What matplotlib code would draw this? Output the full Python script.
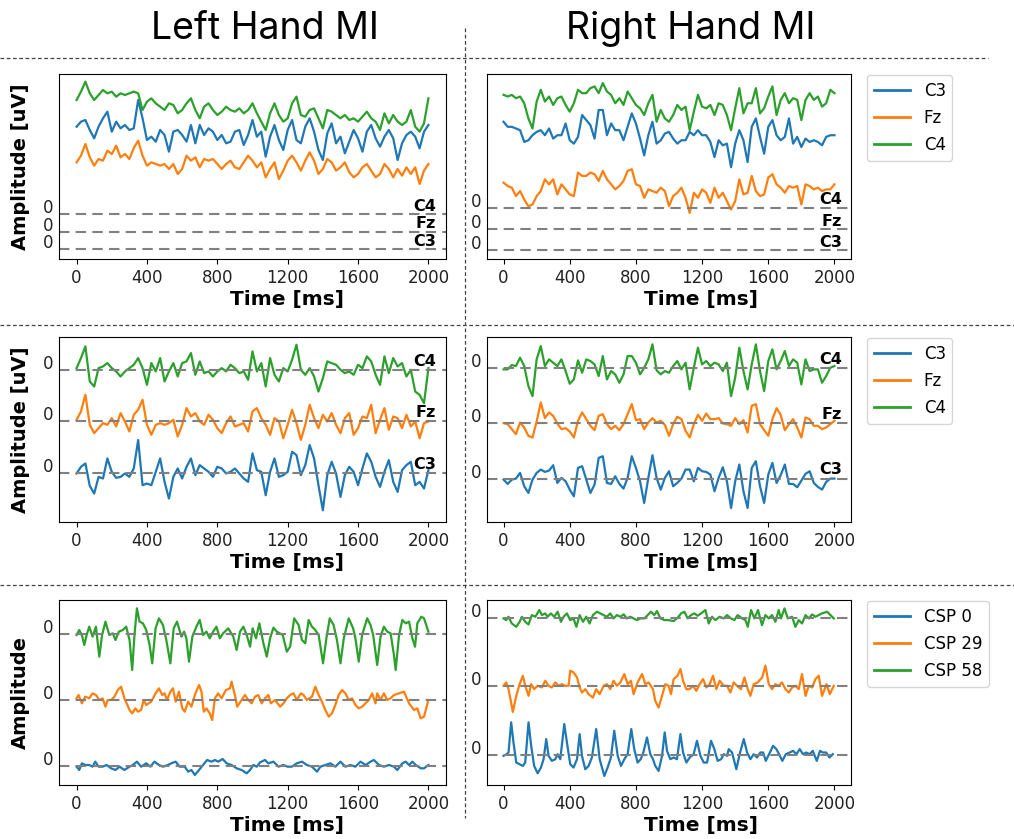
import numpy as np
import matplotlib
matplotlib.use("Agg")
import matplotlib.pyplot as plt
from matplotlib.lines import Line2D
from matplotlib.transforms import ScaledTranslation

# ---- channel traces, amplitude relative to each channel's own zero line ----
# Left hand MI, raw (no baseline removal), sampled every 25 ms over 0..2000 ms
lh_raw_c3 = [367, 382, 387, 357, 332, 367, 392, 412, 352, 382, 362, 372, 357, 362, 447, 392, 327, 337, 322, 357,
             342, 292, 352, 357, 342, 322, 372, 317, 372, 342, 362, 352, 327, 342, 317, 322, 352, 357, 312, 342,
             387, 337, 352, 277, 337, 372, 327, 297, 357, 387, 327, 317, 367, 392, 352, 297, 267, 347, 377, 317,
             337, 287, 322, 357, 332, 292, 352, 372, 332, 307, 337, 357, 332, 267, 317, 342, 352, 337, 302, 352, 372]
lh_raw_fz = [208, 228, 263, 223, 198, 218, 213, 243, 233, 258, 223, 233, 218, 251, 273, 228, 198, 208, 203, 198,
             203, 188, 203, 173, 188, 228, 213, 223, 193, 218, 213, 218, 203, 188, 203, 213, 193, 188, 208, 228,
             213, 193, 208, 163, 188, 208, 158, 183, 213, 228, 208, 183, 213, 238, 213, 173, 188, 218, 208, 183,
             193, 208, 178, 163, 173, 193, 203, 183, 163, 173, 203, 188, 163, 188, 168, 193, 173, 193, 143, 183, 203]
lh_raw_c4 = [343, 368, 398, 363, 343, 358, 373, 363, 368, 353, 363, 358, 363, 368, 363, 313, 338, 348, 333, 323,
             313, 333, 328, 303, 313, 333, 348, 313, 288, 323, 333, 313, 298, 308, 323, 313, 308, 318, 303, 313,
             333, 303, 278, 253, 303, 333, 298, 278, 288, 333, 353, 298, 293, 313, 318, 288, 258, 313, 308, 298,
             288, 298, 283, 288, 278, 293, 308, 288, 278, 253, 303, 273, 298, 278, 268, 278, 313, 263, 248, 273, 348]

# Right hand MI, raw
rh_raw_c3 = [382, 367, 367, 362, 357, 322, 327, 342, 352, 357, 342, 362, 332, 342, 342, 377, 327, 317, 337, 402,
             387, 372, 332, 417, 417, 342, 377, 357, 357, 327, 367, 407, 377, 332, 282, 342, 382, 317, 327, 347,
             352, 332, 317, 327, 327, 352, 342, 357, 342, 342, 322, 277, 327, 312, 317, 247, 317, 357, 327, 262,
             367, 392, 337, 287, 367, 387, 342, 327, 337, 392, 317, 337, 307, 332, 322, 327, 322, 312, 337, 342, 342]
rh_raw_fz = [138, 128, 123, 98, 113, 88, 68, 73, 98, 113, 148, 133, 148, 103, 133, 118, 103, 98, 168, 158,
             158, 168, 163, 143, 173, 148, 133, 118, 128, 143, 173, 178, 133, 128, 93, 118, 113, 108, 123, 113,
             68, 98, 108, 123, 93, 48, 108, 93, 118, 108, 78, 123, 93, 108, 83, 58, 83, 148, 103, 108,
             158, 113, 98, 103, 153, 163, 133, 123, 108, 128, 123, 128, 73, 133, 128, 118, 123, 113, 118, 118, 133]
rh_raw_c4 = [336, 331, 336, 326, 331, 311, 266, 236, 316, 351, 316, 331, 306, 326, 331, 306, 286, 311, 351, 341,
             341, 356, 361, 341, 371, 346, 336, 311, 326, 306, 346, 326, 306, 296, 276, 311, 336, 256, 291, 266,
             256, 276, 306, 291, 301, 231, 286, 336, 301, 296, 306, 276, 311, 306, 276, 231, 296, 356, 281, 311,
             311, 356, 281, 296, 331, 361, 276, 321, 341, 311, 326, 321, 261, 321, 341, 321, 331, 301, 311, 351, 341]

# Left hand MI, baseline removed
lh_c3 = [-1, 19, 29, -38, -61, -11, -16, 44, 4, -14, -11, -1, -11, 14, 99, -36, -31, -36, 4, 44,
         -26, -76, -11, 14, -16, 19, 44, -6, 24, 14, 4, -11, 19, 14, -1, 4, 14, -1, -16, -26,
         59, 9, 4, -66, 4, 44, -11, -6, 4, 64, 54, -6, 24, 84, 44, -36, -111, -6, 34, -1,
         -71, -6, 19, 4, -36, 14, 59, 34, -11, -41, 4, 39, -26, -56, 9, 24, 34, -36, -26, -46, 9]
lh_fz = [5, 30, 80, -10, -35, -20, -5, -10, 10, -15, 25, 0, -30, 20, 35, 65, -10, -40, -10, -5,
         -10, -5, 5, -45, -10, 40, 15, 25, 0, -10, 20, 5, -20, -35, -5, 15, -15, -10, -5, -30,
         30, 40, 10, -10, -40, 10, 0, -50, -10, 35, -5, -55, -10, 50, 10, -20, 20, 0, 25, -10,
         -35, 10, 25, -40, -20, 15, 10, 50, -35, 5, 40, -25, 15, 10, -20, 20, -15, 0, -50, -5, 0]
lh_c4 = [5, 35, 70, -35, -50, 5, 10, 20, 5, -5, -20, -5, 5, 15, 35, 5, -45, 20, -5, 35,
         -35, -5, 20, -20, 20, 25, 50, -15, 25, -10, -5, -20, -5, 5, -5, 15, 5, -10, -5, -30,
         55, -5, 20, -50, 35, -15, -35, 5, -5, 30, 75, 0, -15, 5, -20, -65, -25, 25, 20, 15,
         0, -10, -5, -15, 15, 5, 40, 25, -15, -45, 40, -10, 35, 10, 20, -20, 0, -65, -75, -100, 5]

# Right hand MI, baseline removed
rh_c3 = [-3, -16, -3, 0, 17, -23, -43, -3, 17, 27, 20, 24, 40, -13, 2, -8, -33, -53, 32, 37,
         -3, -43, -18, 62, 67, -13, -16, 7, -16, -30, 2, 67, 32, -8, -73, 2, 70, 2, -33, 2,
         22, -23, -13, 0, 27, 27, -8, 32, 22, 20, 12, -38, 2, 34, -8, -88, -8, 42, -38, -88,
         32, 52, -23, -73, 12, 47, -13, 10, 42, -16, -16, -26, -6, 14, 22, -13, -25, -33, -10, 0, 0]
rh_fz = [0, -3, -18, -33, 2, -13, -38, -43, 5, 62, 15, 32, 22, -1, -18, -15, -25, -43, 7, 32,
         12, -8, -21, 22, 27, -3, -18, -8, -21, -3, 27, 57, 9, 12, -18, 2, 15, 2, 7, -5,
         -38, -3, 19, 12, -23, -43, -3, 25, 7, 29, 12, 12, 15, -1, -3, -8, 15, -3, 9, -28,
         52, 57, -3, -21, -38, 12, 45, 25, -21, -3, 12, -13, -43, 17, 12, -8, -8, -18, -13, -3, 7]
rh_c4 = [-5, -5, 8, 5, 30, 5, -55, -85, 25, 65, 5, 25, 15, 5, 25, -10, -48, -35, 22, -15,
         25, 20, 10, -25, 35, -35, -10, -20, -45, -20, 35, 35, 15, -20, 0, 25, 70, -8, -20, -10,
         -15, 5, 20, -5, 15, -65, 0, 60, 10, 20, 5, 15, 10, -10, 15, -85, -30, 60, -10, -65,
         10, 70, -10, -70, 20, 55, -5, 20, 50, 5, 25, 15, -50, 25, -10, -5, -5, -45, -25, 0, 5]

# CSP components (time in ms, amplitude) - left hand
lh_csp0_t = [0, 15, 30, 49, 72, 91, 106, 125, 148, 171, 196, 221, 244, 272, 301, 320, 343, 367, 396, 419,
             443, 468, 491, 519, 538, 563, 586, 615, 634, 653, 672, 696, 719, 742, 767, 786, 805, 830, 853, 881,
             910, 938, 967, 986, 1005, 1024, 1043, 1071, 1090, 1119, 1148, 1176, 1199, 1224, 1252, 1281, 1309,
             1338, 1367, 1386, 1414, 1443, 1471, 1500, 1528, 1557, 1585, 1614, 1643, 1671, 1690, 1719, 1747,
             1776, 1804, 1823, 1852, 1871, 1890, 1909, 1928, 1957, 1975, 2000]
lh_csp0 = [-3, -13, 7, 2, 2, -3, 12, -3, -3, 2, -8, -13, -3, -13, -3, 2, 12, -3, 7, -3,
           12, 2, -3, 2, 7, 12, -3, -3, -18, -13, -28, -13, 2, 17, 12, 17, 12, 20, 7, 2,
           -8, -13, -23, -13, 2, -3, 10, 17, 7, 12, -3, 2, -3, -3, 7, 12, 2,
           -3, -18, -3, 2, 7, -3, 12, -3, 2, -3, 12, 2, 12, 17, 2, -3,
           2, -3, -13, 7, 12, 2, 12, 2, -8, -8, 2]
lh_csp29_t = [0, 11, 30, 49, 72, 91, 110, 129, 148, 164, 177, 196, 215, 234, 253, 272, 301, 316, 335, 348,
              367, 381, 396, 424, 449, 468, 487, 500, 514, 533, 548, 563, 582, 601, 615, 634, 653, 672, 696, 710,
              723, 738, 757, 771, 786, 805, 824, 849, 872, 881, 900, 913, 938, 957, 976, 995, 1014, 1033, 1052,
              1071, 1090, 1104, 1128, 1157, 1176, 1195, 1214, 1233, 1252, 1275, 1290, 1309, 1338, 1357, 1376,
              1395, 1414, 1433, 1452, 1471, 1490, 1509, 1528, 1547, 1566, 1585, 1604, 1623, 1642, 1661, 1680,
              1699, 1709, 1728, 1747, 1766, 1785, 1804, 1833, 1861, 1890, 1918, 1937, 1956, 1975, 2000]
lh_csp29 = [5, 15, -10, 10, 5, 20, 15, 0, 5, -20, 0, 0, 10, 30, 40, 5, -30, -40, -25, -35,
            -30, 0, -15, -5, 20, 35, 15, 20, 0, 25, 35, -5, 25, -25, -35, -5, -20, 15, 45, 25,
            -35, -25, -40, -60, 5, 20, 5, 30, 35, 55, 15, -20, 0, 15, 0, -10, 10, 15, -10,
            5, 15, -10, 0, -20, -10, 5, 15, 20, 0, 20, 15, 0, 10, 40, 15,
            -5, -30, -50, -40, -15, 15, 30, 20, 0, 5, -15, -25, -20, -10, 0, 20,
            -10, 20, 0, 20, 0, 5, 15, 20, 25, -10, -30, -25, -55, -50, 0]
lh_csp58_t = [0, 15, 30, 44, 57, 72, 91, 110, 129, 145, 164, 186, 206, 221, 240, 263, 282, 301, 316, 329,
              343, 358, 377, 396, 415, 430, 449, 468, 491, 510, 533, 552, 571, 596, 611, 624, 639, 658, 681, 700,
              719, 738, 757, 776, 795, 814, 833, 862, 891, 910, 929, 948, 967, 986, 1001, 1020, 1039, 1062, 1081,
              1100, 1119, 1138, 1172, 1195, 1214, 1237, 1262, 1281, 1300, 1319, 1338, 1357, 1376, 1401, 1420,
              1439, 1461, 1480, 1500, 1519, 1547, 1572, 1585, 1604, 1623, 1652, 1671, 1686, 1709, 1728, 1747,
              1766, 1785, 1804, 1814, 1833, 1852, 1871, 1890, 1909, 1924, 1937, 1960, 1975, 2000]
lh_csp58 = [-2, 13, -2, -32, -2, 23, -7, 23, -67, -2, 38, -2, 3, -17, 8, 13, 23, -17, -107, -2,
            78, 38, 33, 13, -32, -87, 18, 48, 28, -17, -87, 18, 38, -7, 8, -12, -82, -7, 23, 43,
            -2, 8, -12, 8, 23, -12, 3, 18, -7, -47, 8, 23, -2, -37, 18, -12, 33, -27, -67,
            -12, 20, 8, -2, -52, -37, 48, 28, -17, -27, 43, 23, 13, -2, -87, -12,
            48, 28, -17, -87, -12, 48, 18, -12, -82, -2, 48, 28, -2, -92, -7, 23,
            8, 3, -62, -107, -2, 43, 33, 38, -12, -37, 33, 53, 48, 8]

# CSP components - right hand
rh_csp0_t = [0, 20, 30, 46, 60, 77, 97, 117, 131, 151, 167, 185, 206, 226, 242, 258, 272, 292, 313, 327,
             343, 367, 383, 403, 423, 444, 460, 474, 494, 514, 534, 560, 581, 609, 629, 649, 669, 690, 710, 730,
             750, 772, 790, 810, 829, 845, 867, 887, 903, 917, 937, 958, 974, 988, 1008, 1028, 1048, 1069, 1085,
             1105, 1125, 1149, 1169, 1190, 1210, 1230, 1254, 1274, 1294, 1315, 1331, 1351, 1361, 1381, 1407,
             1427, 1452, 1472, 1492, 1512, 1532, 1552, 1569, 1585, 1605, 1629, 1649, 1665, 1685, 1706, 1730,
             1750, 1770, 1790, 1810, 1829, 1850, 1869, 1893, 1913, 1929, 1950, 1970, 1990]
rh_csp0 = [-2, 3, 8, 98, 38, -22, -27, -32, -22, 98, 28, -32, -54, -37, -12, 48, -2, -17, -12, 3,
           -12, 93, 38, -27, -37, -12, 63, -2, -42, -32, -7, 78, -12, -62, -37, -7, 73, -2, -32, -12,
           3, 78, 18, -22, -12, 8, 53, 3, -12, -32, -47, -2, 68, 13, -12, -7, -12, 63, 8,
           -22, -7, 3, 43, -2, -22, -22, 43, 18, -17, -12, 3, -2, 18, 8, -42,
           3, 48, 8, -12, 3, -7, 8, 8, -17, 3, 28, 18, 3, -17, 3, 8,
           13, 3, 18, 3, 8, 3, 13, -17, 13, 8, 8, -7, 3]
rh_csp29_t = [0, 16, 30, 44, 56, 77, 97, 117, 131, 151, 167, 185, 206, 232, 252, 272, 292, 313, 333, 353,
              373, 393, 403, 423, 444, 460, 474, 494, 514, 540, 560, 581, 605, 625, 645, 665, 685, 706, 730, 750,
              770, 786, 810, 837, 857, 877, 903, 917, 937, 958, 978, 998, 1012, 1028, 1052, 1069, 1085, 1105,
              1125, 1145, 1165, 1185, 1206, 1226, 1246, 1266, 1286, 1306, 1331, 1351, 1371, 1391, 1411, 1435,
              1456, 1476, 1492, 1512, 1536, 1563, 1583, 1603, 1623, 1643, 1663, 1683, 1704, 1724, 1744, 1764,
              1784, 1804, 1825, 1845, 1865, 1885, 1905, 1925, 1952, 1972, 1996]
rh_csp29 = [2, 12, -8, -43, -76, -28, 7, 32, 2, -28, 7, -8, 2, -3, 17, 2, -3, 12, 2, 7,
            2, 2, 47, 42, 27, -3, -18, -8, -23, -33, -8, -23, 2, 7, -8, 17, 2, 12, 37, 7,
            17, -23, 12, 37, 7, 12, -8, -43, -63, -28, 7, 2, -23, 22, 32, 52, 17, -8,
            -8, 2, -13, 7, 22, -3, 7, 32, -8, 17, 2, 2, -18, 12, 2, -8,
            27, -8, -28, 7, 12, 27, 62, 7, -8, 7, 2, 12, -8, -18, -3, 2,
            -8, 37, -28, 2, -3, 22, 32, -28, 7, -23, 2]
rh_csp58_t = [0, 16, 30, 50, 77, 97, 111, 131, 151, 171, 192, 216, 232, 252, 266, 286, 306, 327, 347, 363,
              383, 403, 423, 440, 460, 480, 500, 520, 540, 565, 585, 605, 625, 645, 665, 685, 706, 726, 746, 766,
              786, 806, 827, 851, 871, 891, 911, 927, 948, 972, 998, 1028, 1052, 1073, 1093, 1113, 1133, 1153,
              1173, 1194, 1220, 1240, 1260, 1280, 1306, 1331, 1351, 1375, 1395, 1415, 1442, 1462, 1476, 1496,
              1516, 1538, 1562, 1583, 1603, 1623, 1643, 1663, 1677, 1698, 1718, 1744, 1764, 1784, 1804, 1825,
              1845, 1865, 1885, 1905, 1925, 1956, 1976, 1996]
rh_csp58 = [-2, -7, 3, -17, -27, -12, 3, -12, -20, 8, 3, 23, 8, 13, 3, 13, 3, 18, -12, 3,
            13, -7, -2, -27, 8, -12, 3, -17, 8, 18, 13, 8, 3, 13, -2, 8, 3, 10, -2, 3,
            -2, -7, -2, -2, 8, 18, 8, 20, -2, -7, -7, -10, 0, 13, 18, -2, 8, 13,
            6, 13, 23, -17, 3, -7, 3, -2, 8, -2, -7, 8, -2, -7, -27, 23,
            -2, 23, -22, 8, -2, 8, -12, 23, -2, 28, -2, 3, -27, -7, -17, 8,
            -2, 10, 3, 8, 13, 18, 8, -2]

eeg_names = ["C3", "Fz", "C4"]
csp_names = ["CSP 0", "CSP 29", "CSP 58"]
colors = ["#1f77b4", "#ff7f0e", "#2ca02c"]
dt_ms = 2000


def grid(vals):
    return np.linspace(0, dt_ms, len(vals))


def draw_panel(ax, traces, spacing, ylim, tags=None, ylabel=None):
    offsets = [i * spacing for i in range(len(traces))]
    for (t, v), off, c in zip(traces, offsets, colors):
        ax.plot(t, np.asarray(v) + off, color=c, lw=1.6)
    for i, off in enumerate(offsets):
        ax.axhline(off, color="gray", ls=(0, (5, 3)), lw=1.5)
        if tags:
            ax.text(2045, off + spacing * 0.02, tags[i], ha="right", va="bottom",
                    fontsize=11.5, fontweight="bold")
    ax.set_xlim(-100, 2100)
    ax.set_ylim(*ylim)
    ax.set_xticks([0, 400, 800, 1200, 1600, 2000])
    ax.set_yticks(offsets)
    ax.set_yticklabels(["0"] * len(offsets))
    ax.tick_params(axis="y", length=0, pad=4, labelsize=12, labelcolor="#222222")
    ax.tick_params(axis="x", labelsize=12, labelcolor="#222222")
    shift = ScaledTranslation(0, 8 / 100, ax.figure.dpi_scale_trans)
    for tk in ax.yaxis.get_major_ticks():
        tk.label1.set_transform(tk.label1.get_transform() + shift)
    ax.set_xlabel("Time [ms]", fontsize=14.5, fontweight="bold")
    ax.xaxis.set_label_coords(0.589, -0.17)
    if ylabel:
        ax.set_ylabel(ylabel, fontsize=14, fontweight="bold")
        ax.yaxis.set_label_coords(-0.075, 0.5)


fig = plt.figure(figsize=(10.14, 8.39), dpi=100)
W, H = 1014, 839
L = (59 / W, 387 / W)
R = (487 / W, 364 / W)
rows = [1 - 259 / H, 1 - 522 / H, 1 - 785 / H]
h = 185 / H

ax1 = fig.add_axes([L[0], rows[0], L[1], h])
draw_panel(ax1, [(grid(lh_raw_c3), lh_raw_c3), (grid(lh_raw_fz), lh_raw_fz), (grid(lh_raw_c4), lh_raw_c4)],
           52, (-30, 525), eeg_names, "Amplitude [uV]")
ax2 = fig.add_axes([R[0], rows[0], R[1], h])
draw_panel(ax2, [(grid(rh_raw_c3), rh_raw_c3), (grid(rh_raw_fz), rh_raw_fz), (grid(rh_raw_c4), rh_raw_c4)],
           63, (-26, 524), eeg_names)
ax3 = fig.add_axes([L[0], rows[1], L[1], h])
draw_panel(ax3, [(grid(lh_c3), lh_c3), (grid(lh_fz), lh_fz), (grid(lh_c4), lh_c4)],
           154.5, (-146, 407), eeg_names, "Amplitude [uV]")
ax4 = fig.add_axes([R[0], rows[1], R[1], h])
draw_panel(ax4, [(grid(rh_c3), rh_c3), (grid(rh_fz), rh_fz), (grid(rh_c4), rh_c4)],
           166, (-130, 424), eeg_names)
ax5 = fig.add_axes([L[0], rows[2], L[1], h])
draw_panel(ax5, [(lh_csp0_t, lh_csp0), (lh_csp29_t, lh_csp29), (lh_csp58_t, lh_csp58)],
           197, (-58, 497), None, "Amplitude")
ax6 = fig.add_axes([R[0], rows[2], R[1], h])
draw_panel(ax6, [(rh_csp0_t, rh_csp0), (rh_csp29_t, rh_csp29), (rh_csp58_t, rh_csp58)],
           205, (-89, 463))

# legends sit to the right of the right-hand column
for ax, names, top in [(ax2, eeg_names, 75), (ax4, eeg_names, 338), (ax6, csp_names, 601)]:
    handles = [Line2D([], [], color=c, lw=2) for c in colors]
    ax.legend(handles, names, loc="upper left", bbox_to_anchor=(867 / W, 1 - top / H),
              bbox_transform=fig.transFigure, borderaxespad=0, fontsize=12,
              handlelength=2.2, labelspacing=0.55)

# column titles
fig.text(265 / W, 1 - 29 / H, "Left Hand MI", ha="center", va="center", fontsize=27, family="Inter")
fig.text(691 / W, 1 - 29 / H, "Right Hand MI", ha="center", va="center", fontsize=27, family="Inter")

# separators between rows and columns
sep = dict(transform=fig.transFigure, color="#444444", lw=0.9, ls=(0, (3, 2)))
fig.add_artist(Line2D([0, 988 / W], [1 - 58 / H, 1 - 58 / H], **sep))
fig.add_artist(Line2D([0, 1], [1 - 325 / H, 1 - 325 / H], **sep))
fig.add_artist(Line2D([0, 1], [1 - 585 / H, 1 - 585 / H], **sep))
fig.add_artist(Line2D([465 / W, 465 / W], [1 - 28 / H, 1 - 818 / H], **sep))

fig.savefig("out.png", dpi=100)
